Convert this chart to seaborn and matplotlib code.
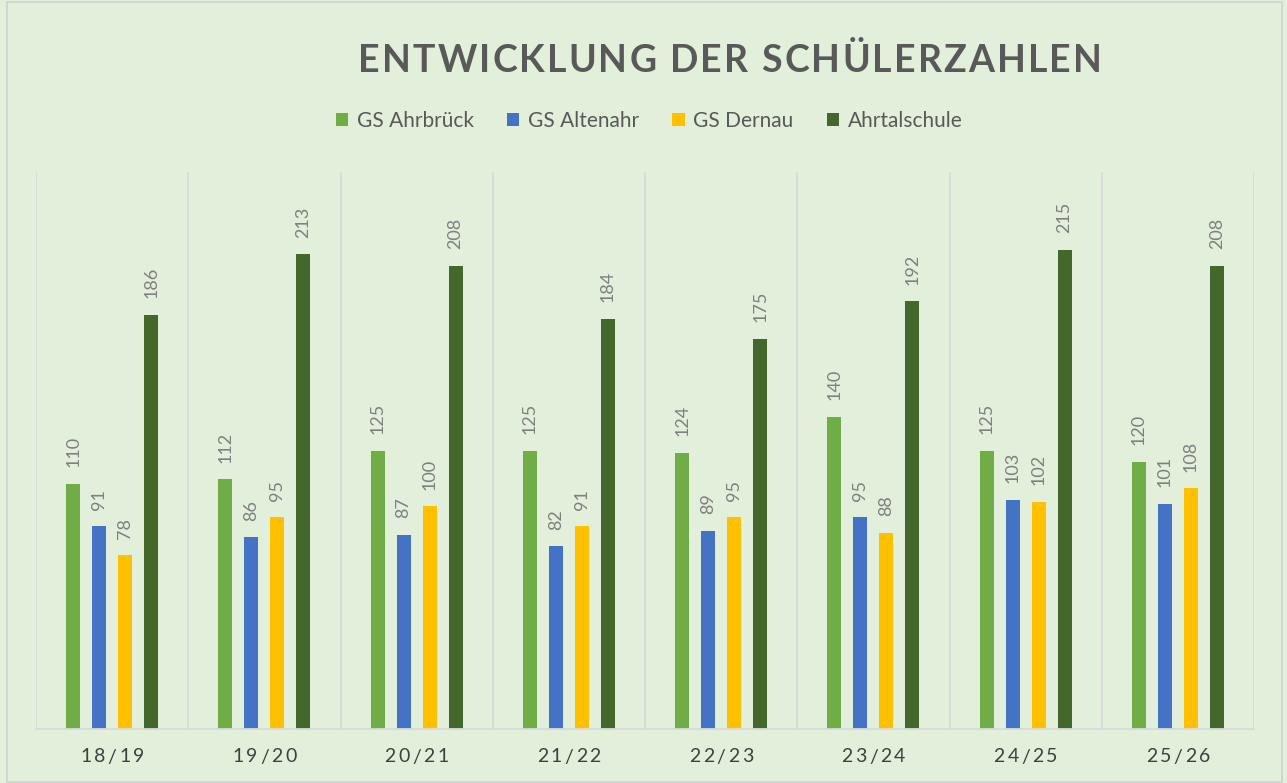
import pandas as pd
import matplotlib.pyplot as plt
import seaborn as sns
from matplotlib.patches import Rectangle

# data
jahre = ["18/19", "19/20", "20/21", "21/22", "22/23", "23/24", "24/25", "25/26"]
schulen = ["GS Ahrbrück", "GS Altenahr", "GS Dernau", "Ahrtalschule"]
ahrbrueck = [110, 112, 125, 125, 124, 140, 125, 120]
altenahr = [91, 86, 87, 82, 89, 95, 103, 101]
dernau = [78, 95, 100, 91, 95, 88, 102, 108]
ahrtalschule = [186, 213, 208, 184, 175, 192, 215, 208]
farben = ["#70AD47", "#4472C4", "#FFC000", "#43682B"]

rows = []
for schule, werte in zip(schulen, [ahrbrueck, altenahr, dernau, ahrtalschule]):
    for j, w in zip(jahre, werte):
        rows.append({"Jahr": j, "Schule": schule, "Anzahl": w})
df = pd.DataFrame(rows)

sns.set_theme(style="white")
plt.rcParams["font.family"] = ["Lato", "DejaVu Sans"]

W, H = 1287, 783
BG = "#E2EFDA"
fig = plt.figure(figsize=(W / 100, H / 100), dpi=100, facecolor=BG)
ax = fig.add_axes([36 / W, 1 - 729 / H, (1254 - 36) / W, (729 - 172) / H])
ax.set_facecolor(BG)

sns.barplot(data=df, x="Jahr", y="Anzahl", hue="Schule", order=jahre, hue_order=schulen,
            palette=farben, saturation=1, width=0.684, gap=0.46, linewidth=0, ax=ax)

for cont in ax.containers:
    ax.bar_label(cont, padding=12, rotation=90, color="#7F7F7F", fontsize=13)

ax.set_ylim(0, 250)
ax.set_xlim(-0.5, len(jahre) - 0.5)
ax.set_yticks([])
ax.set_xticks(range(len(jahre)), [""] * len(jahre))
ax.set_xticks([i - 0.5 for i in range(len(jahre) + 1)], minor=True)
ax.grid(which="minor", axis="x", color="#D9D9D9", lw=1.3)
ax.grid(which="major", visible=False)
ax.tick_params(which="both", length=0)
ax.set_xlabel("")
ax.set_ylabel("")
for s in ["top", "right", "left"]:
    ax.spines[s].set_visible(False)
ax.spines["bottom"].set_color("#D9D9D9")
ax.spines["bottom"].set_linewidth(1.3)

# legend
handles, labels = ax.get_legend_handles_labels()
ax.get_legend().remove()
fig.legend(handles, labels, loc="center", bbox_to_anchor=(649 / W, 1 - 121 / H), ncol=4,
           frameon=False, fontsize=15, labelcolor="#595959", handlelength=0.6,
           handleheight=0.6, handletextpad=0.4, columnspacing=1.6)

renderer = fig.canvas.get_renderer()


def breite(s, **kw):
    t = fig.text(0, 0, s, **kw)
    w = t.get_window_extent(renderer).width
    t.remove()
    return w


def gesperrt(x_mitte, y, s, ziel_breite, **kw):
    # text with letter spacing, x/y in pixels from bottom-left
    ws = []
    for c in s:
        if c == " ":
            ws.append(breite("n n", **kw) - breite("nn", **kw))
        else:
            ws.append(breite(c, **kw))
    abstand = (ziel_breite - sum(ws)) / (len(s) - 1)
    x = x_mitte - ziel_breite / 2
    for c, w in zip(s, ws):
        fig.text(x / W, y / H, c, ha="left", va="center", **kw)
        x += w + abstand


gesperrt(730, H - 61, "ENTWICKLUNG DER SCHÜLERZAHLEN", 744,
         fontsize=27, fontweight="bold", color="#595959")

for i, j in enumerate(jahre):
    xm = ax.transData.transform((i, 0))[0]
    gesperrt(xm, H - 757, j, 64, fontsize=14, color="#404040")

fig.add_artist(Rectangle((7 / W, 1.5 / H), (1282 - 7) / W, (H - 3) / H, transform=fig.transFigure,
                         fill=False, edgecolor="#D0D0D0", lw=1.2))

fig.savefig("out.png", dpi=100, facecolor=BG)
